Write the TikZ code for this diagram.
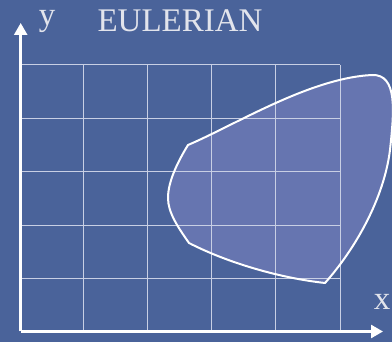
\documentclass[tikz,border=0pt]{standalone}
\usepackage{fontspec}
\setmainfont{Liberation Serif}
\usetikzlibrary{arrows.meta}
\definecolor{bgblue}{RGB}{74,99,154}
\definecolor{blobblue}{RGB}{102,117,176}
\definecolor{gridgray}{RGB}{200,207,228}
\definecolor{labelgray}{RGB}{226,228,236}

\begin{document}
\begin{tikzpicture}[
  x=1pt,y=-1pt,
  >={Triangle[length=12pt,width=13pt]},
  gridline/.style={draw=gridgray,line width=1pt},
  axis/.style={draw=white,line width=2.6pt,->},
  blob/.style={draw=white,line width=2pt,line join=round},
  lbl/.style={text=labelgray,font=\fontsize{33}{33}\selectfont,inner sep=0pt,anchor=base},
]
% ---- background ---------------------------------------------------------
\fill[bgblue] (0,0) rectangle (392,342);
\useasboundingbox (0,0) rectangle (392,342);
\clip (0,0) rectangle (392,342);

% ---- material region (fill) ---------------------------------------------
\def\regionpath{(188,145) .. controls (235,125) and (310,78) .. (372,75)
  .. controls (398,74) and (394,112) .. (390,150)
  .. controls (384,198) and (356,248) .. (325,283)
  .. controls (280,278) and (228,263) .. (189,243)
  .. controls (177,226) and (168,212) .. (168,198)
  .. controls (168,182) and (177,163) .. cycle}
\fill[blobblue] \regionpath;

% ---- eulerian grid ------------------------------------------------------
\foreach \gx in {20.7,83.3,147.3,211.7,275.7,340}
  \draw[gridline] (\gx,65) -- (\gx,331.5);
\foreach \gy in {65,118.3,171.7,225.7,278.7}
  \draw[gridline] (20.7,\gy) -- (340,\gy);

% ---- material region (outline) ------------------------------------------
\draw[blob] \regionpath;

% ---- axes ---------------------------------------------------------------
\coordinate (O) at (20.7,331.5);
\coordinate (ytip) at (20.7,23);
\coordinate (xtip) at (383,331.5);
\draw[axis] (O) -- (ytip);
\draw[axis] (O) -- (xtip);
\node[lbl] (ylab) at (47,26) {y};
\node[lbl] (title) at (180,31.5) {EULERIAN};
\node[lbl] (xlab) at (382,310) {x};
\end{tikzpicture}
\end{document}
